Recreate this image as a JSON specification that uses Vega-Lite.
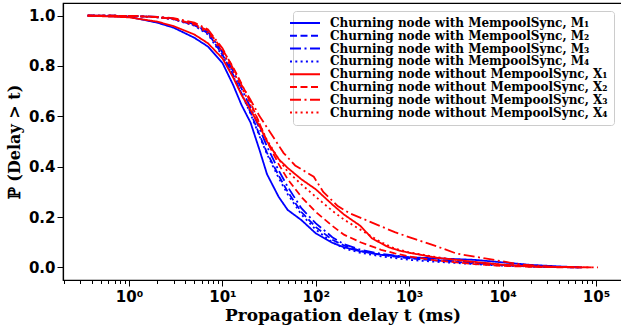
{
  "$schema": "https://vega.github.io/schema/vega-lite/v6.json",
  "width": 559,
  "height": 277,
  "autosize": {"type": "none"},
  "padding": {"left": 63, "top": 3, "right": -1, "bottom": 45},
  "background": "white",
  "config": {
    "view": {"stroke": "#000", "strokeWidth": 1.2},
    "axis": {"domainColor": "#000", "domainWidth": 1.2, "tickColor": "#000", "tickWidth": 1, "grid": false,
      "labelFont": "DejaVu Sans", "labelFontWeight": "bold", "labelFontSize": 15, "labelColor": "#000",
      "titleFont": "DejaVu Serif", "titleFontWeight": "bold", "titleFontSize": 16, "titleColor": "#000"}
  },
  "data": {"values": [
    {"s":"M1","t":0.36,"p":1},{"s":"M1","t":1,"p":0.995},{"s":"M1","t":2,"p":0.972},{"s":"M1","t":3,"p":0.952},{"s":"M1","t":5,"p":0.912},{"s":"M1","t":7,"p":0.877},{"s":"M1","t":10,"p":0.812},{"s":"M1","t":13,"p":0.725},{"s":"M1","t":16,"p":0.645},{"s":"M1","t":20,"p":0.575},{"s":"M1","t":25,"p":0.465},{"s":"M1","t":30,"p":0.37},{"s":"M1","t":40,"p":0.28},{"s":"M1","t":50,"p":0.228},{"s":"M1","t":70,"p":0.188},{"s":"M1","t":100,"p":0.135},{"s":"M1","t":150,"p":0.098},{"s":"M1","t":200,"p":0.08},{"s":"M1","t":300,"p":0.064},{"s":"M1","t":500,"p":0.05},{"s":"M1","t":1000,"p":0.04},{"s":"M1","t":2000,"p":0.036},{"s":"M1","t":5000,"p":0.03},{"s":"M1","t":10000,"p":0.02},{"s":"M1","t":20000,"p":0.01},{"s":"M1","t":40000,"p":0.004},{"s":"M1","t":70000,"p":0},
    {"s":"M2","t":0.36,"p":1},{"s":"M2","t":1,"p":0.999},{"s":"M2","t":2,"p":0.994},{"s":"M2","t":3,"p":0.986},{"s":"M2","t":5,"p":0.962},{"s":"M2","t":7,"p":0.93},{"s":"M2","t":10,"p":0.845},{"s":"M2","t":13,"p":0.765},{"s":"M2","t":16,"p":0.69},{"s":"M2","t":20,"p":0.615},{"s":"M2","t":25,"p":0.525},{"s":"M2","t":30,"p":0.455},{"s":"M2","t":40,"p":0.365},{"s":"M2","t":50,"p":0.3},{"s":"M2","t":70,"p":0.22},{"s":"M2","t":100,"p":0.16},{"s":"M2","t":150,"p":0.11},{"s":"M2","t":200,"p":0.087},{"s":"M2","t":300,"p":0.066},{"s":"M2","t":500,"p":0.05},{"s":"M2","t":1000,"p":0.036},{"s":"M2","t":2000,"p":0.027},{"s":"M2","t":5000,"p":0.016},{"s":"M2","t":10000,"p":0.009},{"s":"M2","t":20000,"p":0.004},{"s":"M2","t":50000,"p":0.001},{"s":"M2","t":70000,"p":0},
    {"s":"M3","t":0.36,"p":1},{"s":"M3","t":1,"p":0.999},{"s":"M3","t":2,"p":0.995},{"s":"M3","t":3,"p":0.988},{"s":"M3","t":5,"p":0.966},{"s":"M3","t":7,"p":0.935},{"s":"M3","t":10,"p":0.855},{"s":"M3","t":13,"p":0.78},{"s":"M3","t":16,"p":0.71},{"s":"M3","t":20,"p":0.635},{"s":"M3","t":25,"p":0.55},{"s":"M3","t":30,"p":0.48},{"s":"M3","t":40,"p":0.385},{"s":"M3","t":50,"p":0.32},{"s":"M3","t":70,"p":0.235},{"s":"M3","t":100,"p":0.175},{"s":"M3","t":130,"p":0.14},{"s":"M3","t":150,"p":0.12},{"s":"M3","t":200,"p":0.092},{"s":"M3","t":300,"p":0.07},{"s":"M3","t":500,"p":0.054},{"s":"M3","t":1000,"p":0.04},{"s":"M3","t":2000,"p":0.03},{"s":"M3","t":5000,"p":0.019},{"s":"M3","t":10000,"p":0.01},{"s":"M3","t":30000,"p":0.003},{"s":"M3","t":70000,"p":0},
    {"s":"M4","t":0.36,"p":1},{"s":"M4","t":1,"p":0.999},{"s":"M4","t":2,"p":0.993},{"s":"M4","t":3,"p":0.985},{"s":"M4","t":5,"p":0.96},{"s":"M4","t":7,"p":0.925},{"s":"M4","t":10,"p":0.84},{"s":"M4","t":13,"p":0.76},{"s":"M4","t":16,"p":0.69},{"s":"M4","t":20,"p":0.61},{"s":"M4","t":25,"p":0.52},{"s":"M4","t":30,"p":0.45},{"s":"M4","t":40,"p":0.355},{"s":"M4","t":50,"p":0.29},{"s":"M4","t":70,"p":0.21},{"s":"M4","t":100,"p":0.15},{"s":"M4","t":150,"p":0.1},{"s":"M4","t":200,"p":0.076},{"s":"M4","t":300,"p":0.058},{"s":"M4","t":500,"p":0.044},{"s":"M4","t":1000,"p":0.03},{"s":"M4","t":2000,"p":0.022},{"s":"M4","t":5000,"p":0.013},{"s":"M4","t":10000,"p":0.007},{"s":"M4","t":30000,"p":0.002},{"s":"M4","t":70000,"p":0},
    {"s":"X1","t":0.36,"p":1},{"s":"X1","t":1,"p":0.993},{"s":"X1","t":2,"p":0.976},{"s":"X1","t":3,"p":0.958},{"s":"X1","t":5,"p":0.925},{"s":"X1","t":7,"p":0.89},{"s":"X1","t":10,"p":0.83},{"s":"X1","t":13,"p":0.755},{"s":"X1","t":16,"p":0.685},{"s":"X1","t":20,"p":0.625},{"s":"X1","t":25,"p":0.56},{"s":"X1","t":30,"p":0.5},{"s":"X1","t":40,"p":0.43},{"s":"X1","t":50,"p":0.395},{"s":"X1","t":70,"p":0.35},{"s":"X1","t":100,"p":0.31},{"s":"X1","t":150,"p":0.25},{"s":"X1","t":200,"p":0.21},{"s":"X1","t":300,"p":0.165},{"s":"X1","t":400,"p":0.115},{"s":"X1","t":600,"p":0.08},{"s":"X1","t":800,"p":0.066},{"s":"X1","t":1000,"p":0.058},{"s":"X1","t":2000,"p":0.038},{"s":"X1","t":5000,"p":0.022},{"s":"X1","t":10000,"p":0.011},{"s":"X1","t":20000,"p":0.004},{"s":"X1","t":70000,"p":0},
    {"s":"X2","t":0.36,"p":1},{"s":"X2","t":1,"p":0.999},{"s":"X2","t":2,"p":0.994},{"s":"X2","t":3,"p":0.987},{"s":"X2","t":5,"p":0.967},{"s":"X2","t":7,"p":0.94},{"s":"X2","t":10,"p":0.865},{"s":"X2","t":13,"p":0.795},{"s":"X2","t":16,"p":0.73},{"s":"X2","t":20,"p":0.655},{"s":"X2","t":25,"p":0.57},{"s":"X2","t":30,"p":0.5},{"s":"X2","t":40,"p":0.41},{"s":"X2","t":50,"p":0.35},{"s":"X2","t":70,"p":0.28},{"s":"X2","t":100,"p":0.22},{"s":"X2","t":150,"p":0.165},{"s":"X2","t":200,"p":0.13},{"s":"X2","t":300,"p":0.1},{"s":"X2","t":500,"p":0.07},{"s":"X2","t":700,"p":0.056},{"s":"X2","t":1000,"p":0.043},{"s":"X2","t":2000,"p":0.027},{"s":"X2","t":5000,"p":0.013},{"s":"X2","t":10000,"p":0.006},{"s":"X2","t":30000,"p":0.001},{"s":"X2","t":70000,"p":0},
    {"s":"X3","t":0.36,"p":1},{"s":"X3","t":1,"p":0.999},{"s":"X3","t":2,"p":0.995},{"s":"X3","t":3,"p":0.99},{"s":"X3","t":5,"p":0.972},{"s":"X3","t":7,"p":0.945},{"s":"X3","t":10,"p":0.87},{"s":"X3","t":13,"p":0.79},{"s":"X3","t":16,"p":0.725},{"s":"X3","t":20,"p":0.665},{"s":"X3","t":25,"p":0.6},{"s":"X3","t":32,"p":0.54},{"s":"X3","t":45,"p":0.455},{"s":"X3","t":60,"p":0.405},{"s":"X3","t":95,"p":0.36},{"s":"X3","t":120,"p":0.3},{"s":"X3","t":170,"p":0.245},{"s":"X3","t":230,"p":0.215},{"s":"X3","t":400,"p":0.178},{"s":"X3","t":700,"p":0.14},{"s":"X3","t":1200,"p":0.11},{"s":"X3","t":2000,"p":0.083},{"s":"X3","t":3200,"p":0.055},{"s":"X3","t":6000,"p":0.038},{"s":"X3","t":10000,"p":0.024},{"s":"X3","t":16000,"p":0.011},{"s":"X3","t":32000,"p":0.003},{"s":"X3","t":90000,"p":0},
    {"s":"X4","t":0.36,"p":1},{"s":"X4","t":1,"p":0.999},{"s":"X4","t":2,"p":0.993},{"s":"X4","t":3,"p":0.986},{"s":"X4","t":5,"p":0.963},{"s":"X4","t":7,"p":0.932},{"s":"X4","t":10,"p":0.855},{"s":"X4","t":13,"p":0.78},{"s":"X4","t":16,"p":0.715},{"s":"X4","t":20,"p":0.645},{"s":"X4","t":25,"p":0.57},{"s":"X4","t":30,"p":0.505},{"s":"X4","t":40,"p":0.43},{"s":"X4","t":50,"p":0.38},{"s":"X4","t":70,"p":0.33},{"s":"X4","t":100,"p":0.28},{"s":"X4","t":150,"p":0.225},{"s":"X4","t":200,"p":0.19},{"s":"X4","t":300,"p":0.15},{"s":"X4","t":500,"p":0.1},{"s":"X4","t":700,"p":0.075},{"s":"X4","t":1000,"p":0.06},{"s":"X4","t":2000,"p":0.04},{"s":"X4","t":5000,"p":0.02},{"s":"X4","t":10000,"p":0.01},{"s":"X4","t":20000,"p":0.004},{"s":"X4","t":50000,"p":0.001},{"s":"X4","t":105000,"p":0}
  ]},
  "mark": {"type": "line", "strokeWidth": 1.8, "clip": true},
  "encoding": {
    "x": {"field": "t", "type": "quantitative",
      "scale": {"type": "log", "domain": [0.196, 190000], "nice": false},
      "axis": {"orient": "bottom", "title": "Propagation delay t (ms)", "titlePadding": 3, "titleFontSize": 17,
        "values": [0.2,0.3,0.4,0.5,0.6,0.7,0.8,0.9,1,2,3,4,5,6,7,8,9,10,20,30,40,50,60,70,80,90,100,200,300,400,500,600,700,800,900,1000,2000,3000,4000,5000,6000,7000,8000,9000,10000,20000,30000,40000,50000,60000,70000,80000,90000,100000],
        "labelExpr": "abs(log(datum.value)/LN10 - round(log(datum.value)/LN10)) < 0.000001 ? '10' + ['⁰','¹','²','³','⁴','⁵'][round(log(datum.value)/LN10)] : ''",
        "labelOverlap": false, "labelFlush": false, "labelPadding": 3,
        "tickSize": {"condition": {"test": "abs(log(datum.value)/LN10 - round(log(datum.value)/LN10)) < 0.000001", "value": 6}, "value": 3.5}}},
    "y": {"field": "p", "type": "quantitative",
      "scale": {"domain": [-0.05, 1.05], "nice": false, "zero": false},
      "axis": {"title": "ℙ (Delay > t)", "values": [0, 0.2, 0.4, 0.6, 0.8, 1.0], "format": ".1f",
        "tickSize": 6, "labelPadding": 2, "titlePadding": 6}},
    "color": {"field": "s", "type": "nominal",
      "scale": {"domain": ["M1","M2","M3","M4","X1","X2","X3","X4"], "range": ["#0000ff","#0000ff","#0000ff","#0000ff","#ff0000","#ff0000","#ff0000","#ff0000"]},
      "legend": {"title": null, "orient": "none", "legendX": 230, "legendY": 8,
        "labelExpr": "(substring(datum.label,0,1) == 'M' ? 'Churning node with MempoolSync, M' : 'Churning node without MempoolSync, X') + ['₁','₂','₃','₄'][toNumber(substring(datum.label,1,2)) - 1]",
        "symbolType": "M-3,0H3", "symbolSize": 100, "symbolStrokeWidth": 2,
        "labelFont": "DejaVu Serif", "labelFontWeight": "bold", "labelFontSize": 12, "labelColor": "#000", "labelLimit": 400, "labelOffset": 19,
        "rowPadding": 0.8, "padding": 6, "strokeColor": "#cccccc", "fillColor": "rgba(255,255,255,0.85)", "cornerRadius": 3}},
    "strokeDash": {"field": "s", "type": "nominal",
      "scale": {"domain": ["M1","M2","M3","M4","X1","X2","X3","X4"], "range": [[1,0],[7,3.5],[11,3.5,2,3.5],[2,3.3],[1,0],[7,3.5],[11,3.5,2,3.5],[2,3.3]]},
      "legend": null}
  }
}
